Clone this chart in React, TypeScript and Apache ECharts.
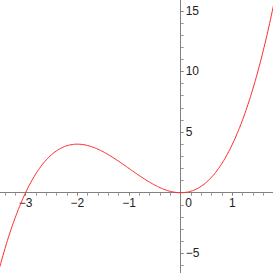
import React, { useEffect, useRef } from "react";
import * as echarts from "echarts";

const xValues = [
  -3.5, -3.4, -3.3, -3.2, -3.1, -3.0, -2.9, -2.8, -2.7, -2.6, -2.5, -2.4, -2.3, -2.2, -2.1, -2.0,
  -1.9, -1.8, -1.7, -1.6, -1.5, -1.4, -1.3, -1.2, -1.1, -1.0, -0.9, -0.8, -0.7, -0.6, -0.5, -0.4,
  -0.3, -0.2, -0.1, 0.0, 0.1, 0.2, 0.3, 0.4, 0.5, 0.6, 0.7, 0.8, 0.9, 1.0, 1.1, 1.2, 1.3, 1.4,
  1.5, 1.6, 1.7, 1.8,
];
const yValues = [
  -6.125, -4.624, -3.267, -2.048, -0.961, 0, 0.841, 1.568, 2.187, 2.704, 3.125, 3.456, 3.703, 3.872,
  3.969, 4.0, 3.971, 3.888, 3.757, 3.584, 3.375, 3.136, 2.873, 2.592, 2.299, 2.0, 1.701, 1.408, 1.127,
  0.864, 0.625, 0.416, 0.243, 0.112, 0.029, 0, 0.031, 0.128, 0.297, 0.544, 0.875, 1.296, 1.813, 2.432,
  3.159, 4.0, 4.961, 6.048, 7.267, 8.624, 10.125, 11.776, 13.583, 15.552,
];
const xTickLabels = [-3, -2, -1, 0, 1];
const yTickLabels = [-5, 5, 10, 15];

const fontFamily = "'Liberation Sans', Arial, Helvetica, sans-serif";

export default function App() {
  const ref = useRef<HTMLDivElement>(null);
  useEffect(() => {
    if (!ref.current) return;
    const chart = echarts.init(ref.current, undefined, { renderer: "svg" });
    const data = xValues.map((x, i) => [x, yValues[i]]);
    const minus = (v: number) => String(v).replace("-", "\u2212");
    const axisColor = "#808080";
    const hidden = {
      axisLine: { show: false },
      axisTick: { show: false },
      axisLabel: { show: false },
      splitLine: { show: false },
    };
    const X = { min: -4, max: 2 };
    const Y = { min: -10, max: 20 };
    const L = -26.1, R = -11.1, T = -49.9, B = -41;
    chart.setOption({
      animation: false,
      backgroundColor: "#ffffff",
      grid: [
        { left: L, right: R, top: T, bottom: B, outerBoundsMode: "none" },
        { left: L, right: R, top: 0, bottom: 80.3, outerBoundsMode: "none" },
        { left: 180.7, right: 0, top: T, bottom: B, outerBoundsMode: "none" },
      ],
      xAxis: [
        { type: "value", gridIndex: 0, ...X, ...hidden },
        {
          type: "value",
          gridIndex: 1,
          ...X,
          interval: 1,
          position: "bottom",
          axisLine: { show: true, onZero: false, lineStyle: { color: axisColor, width: 1 } },
          axisTick: { show: true, length: 3, lineStyle: { color: axisColor } },
          minorTick: { show: true, splitNumber: 5, length: 3, lineStyle: { color: "#999" } },
          splitLine: { show: false },
          axisLabel: {
            margin: 4,
            fontSize: 12,
            color: "#222",
            fontFamily,
            formatter: (v: number) =>
              !xTickLabels.includes(v) ? "" : v === 0 ? "{z|0}" : minus(v),
            rich: { z: { fontSize: 12, color: "#222", fontFamily, padding: [0, 0, 0, 16] } },
          },
        },
        { type: "value", gridIndex: 2, ...X, ...hidden },
      ],
      yAxis: [
        { type: "value", gridIndex: 0, ...Y, ...hidden },
        { type: "value", gridIndex: 1, ...Y, ...hidden },
        {
          type: "value",
          gridIndex: 2,
          ...Y,
          interval: 5,
          position: "left",
          axisLine: { show: true, onZero: false, lineStyle: { color: axisColor, width: 1 } },
          axisTick: { show: true, inside: true, length: 3, lineStyle: { color: axisColor } },
          minorTick: { show: true, splitNumber: 5, length: 3, lineStyle: { color: "#999" } },
          splitLine: { show: false },
          axisLabel: {
            inside: true,
            margin: 5,
            fontSize: 12,
            color: "#222",
            fontFamily,
            formatter: (v: number) => (yTickLabels.includes(v) ? minus(v) : ""),
          },
        },
      ],
      series: [
        {
          type: "line",
          xAxisIndex: 0,
          yAxisIndex: 0,
          data,
          smooth: true,
          showSymbol: false,
          symbol: "none",
          lineStyle: { color: "#ff2a2a", width: 1 },
          clip: true,
          z: 3,
        },
      ],
    });
    return () => chart.dispose();
  }, []);
  return (
    <div
      ref={ref}
      style={{ position: "fixed", left: 0, top: 0, width: 273, height: 273, background: "#fff" }}
    />
  );
}
